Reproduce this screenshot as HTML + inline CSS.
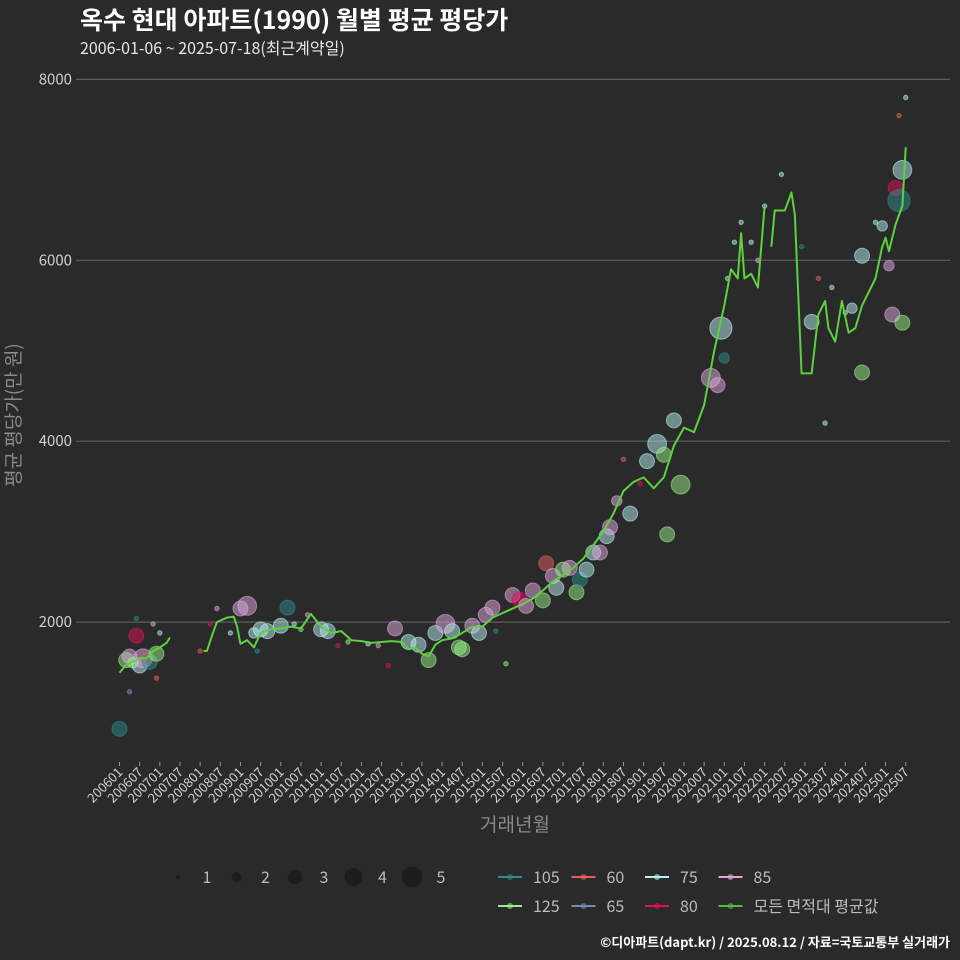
<!DOCTYPE html>
<html><head><meta charset="utf-8">
<style>
html,body{margin:0;padding:0;background:#2a2a2a;}
svg{display:block;font-family:"Noto Sans CJK KR","Liberation Sans",sans-serif;}
</style></head>
<body>
<svg id="chart" width="960" height="960" viewBox="0 0 960 960">
<rect width="960" height="960" fill="#2a2a2a"/>
<text x="80" y="29" fill="#ffffff" font-size="25" font-weight="bold">옥수 현대 아파트(1990) 월별 평균 평당가</text>
<text x="80" y="54" fill="#e8e8e8" font-size="16">2006-01-06 ~ 2025-07-18(최근계약일)</text>
<g id="grid"></g>
<g id="yticks"></g>
<g id="xticks"></g>
<g id="points"></g>
<g id="line"></g>
<text transform="translate(20,415) rotate(-90)" text-anchor="middle" fill="#8a8a8a" font-size="19">평균 평당가(만 원)</text>
<text x="515" y="831" text-anchor="middle" fill="#8a8a8a" font-size="19">거래년월</text>
<g id="legend"></g>
<text x="950" y="947" text-anchor="end" fill="#ffffff" font-size="13" font-weight="bold">©디아파트(dapt.kr) / 2025.08.12 / 자료=국토교통부 실거래가</text>
</svg>
<script>
const yTicks = [2000, 4000, 6000, 8000];
const lineMonths = [200601,200603,200605,200607,200609,200611,200701,200703,200704,null,
200802,200803,200805,200806,200809,200811,200812,200901,200903,200905,200907,200910,201001,201004,201007,201010,201101,201104,201107,201110,201201,201204,201207,201210,201301,201303,201305,201307,201309,201311,201401,201404,201407,201410,201501,201504,201507,201510,201601,201604,201607,201610,201701,201704,201707,201710,201801,201804,201807,201810,201901,201904,201907,201910,202001,202004,202007,202010,202101,202103,202105,202106,202107,202109,202111,202201,null,
202203,202204,202207,202209,202210,202212,202301,202303,202305,202307,202308,202310,202312,202402,202404,202406,202408,202410,202412,202501,202502,202504,202506,202507];
const lineValues = [1440,1530,1560,1600,1600,1680,1720,1770,1830,null,
1680,1680,1900,2000,2050,2060,1950,1760,1800,1720,1880,1920,1930,1950,1930,2090,1950,1880,1900,1800,1790,1770,1780,1790,1780,1700,1720,1650,1620,1750,1800,1820,1880,1950,1950,2050,2100,2150,2200,2260,2350,2450,2520,2600,2700,2850,3000,3200,3450,3550,3600,3480,3600,3950,4150,4100,4400,5000,5500,5900,5800,6300,5800,5850,5700,6600,null,
6150,6550,6550,6750,6500,4750,4750,4750,5400,5550,5250,5100,5550,5200,5250,5500,5650,5800,6150,6250,6100,6400,6600,7250];
const areaNames = ["105","60","75","85","125","65","80"];
const areaColors = ["#2e8b8b","#e0605a","#b8eef0","#e0a8e0","#98ee88","#7090b8","#e0105a"];
const ptMonths = [200601,200603,200604,200605,200606,200607,200608,200609,200610,200611,
200612,200612,200701,200606,200604,200801,200804,200806,200810,200901,
200903,200905,200906,200907,200909,201001,201003,201005,201007,201009,
201101,201103,201106,201109,201203,201206,201209,201211,201303,201306,
201309,201311,201402,201404,201406,201407,201410,201412,201502,201504,
201505,201508,201510,201512,201602,201604,201607,201608,201610,201611,
201701,201703,201705,201706,201708,201710,201712,201802,201803,201805,
201807,201809,201812,201902,201905,201907,201908,201910,201912,
202009,202011,202012,202101,202102,202104,202106,202109,202111,202201,
202206,202212,202303,202305,202307,202309,202401,202403,202406,202406,
202410,202412,202502,202503,202504,202505,202506,202506,202507,202505];
const ptValues = [820,1580,1620,1550,1850,1520,1600,1600,1560,1980,
1380,1650,1880,2040,1230,1680,1980,2150,1880,2150,
2180,1880,1680,1920,1900,1960,2160,1980,1920,2080,
1920,1900,1740,1780,1760,1740,1520,1930,1780,1750,
1580,1880,1980,1900,1720,1700,1960,1880,2080,2160,
1900,1540,2300,2250,2180,2350,2240,2650,2510,2380,
2580,2600,2330,2470,2580,2770,2770,2950,3050,3340,
3800,3200,3530,3780,3970,3850,2970,4230,3520,
4700,4620,5250,4920,5800,6200,6420,6200,6000,6600,
6950,6150,5320,5800,4200,5700,5420,5470,6050,4760,
6420,6380,5940,5400,6800,6660,7000,5310,7800,7600];
const ptAreas = [0,4,3,4,6,2,3,1,0,3,
1,4,2,0,5,1,6,3,2,3,
3,2,0,2,2,2,0,2,4,3,
2,2,6,4,2,3,6,3,2,2,
4,2,3,2,4,4,3,2,3,3,
0,4,3,6,3,3,4,1,3,2,
4,3,4,0,2,2,3,2,3,3,
1,2,6,2,2,4,4,2,4,
3,3,2,0,2,2,2,2,3,2,
2,0,2,1,2,2,2,2,2,4,
2,2,3,3,6,0,2,4,2,1];
const ptCounts = [3,3,3,2,3,3,4,2,3,1,
1,3,1,1,1,1,1,1,1,3,
4,2,1,3,3,3,3,1,1,1,
3,3,1,1,1,1,1,3,3,3,
3,3,4,3,3,3,3,3,3,3,
1,1,3,3,3,3,3,3,3,3,
3,3,3,3,3,3,3,3,3,2,
1,3,1,3,4,3,3,3,4,
4,3,5,2,1,1,1,1,1,1,
1,1,3,1,1,1,1,2,3,3,
1,2,2,3,3,5,4,3,1,1];

const NS="http://www.w3.org/2000/svg";
const X0=119.5, XS=3.36, Y0=803, YS=0.09045;
function xScale(ym){const y=Math.floor(ym/100), m=ym%100; return X0+((y-2006)*12+(m-1))*XS;}
function yScale(v){return Y0-v*YS;}
function rScale(n){return 2.2+ (Math.sqrt(n)-1)*7.2;}
function mk(tag,attrs,parent){const e=document.createElementNS(NS,tag);for(const k in attrs)e.setAttribute(k,attrs[k]);parent.appendChild(e);return e;}

const grid=document.getElementById('grid'), yt=document.getElementById('yticks');
yTicks.forEach(t=>{
  const l=mk('line',{x1:76,x2:950,y1:yScale(t),y2:yScale(t),stroke:'#5e5e5e','stroke-width':1.2},grid);
  
  
  const tx=mk('text',{x:72,y:yScale(t)+5,'text-anchor':'end',fill:'#cfcfcf','font-size':15},yt);
  tx.textContent=t;
  
  
});
const xt=document.getElementById('xticks');
for(let y=2006;y<=2025;y++){for(const m of [1,7]){
  const ym=y*100+m, x=xScale(ym);
  const tk=mk('line',{x1:x,x2:x,y1:762,y2:766,stroke:'#999','stroke-width':1},xt);
  
  
  const tx=mk('text',{x:x+4,y:773,'text-anchor':'end',fill:'#d0d0d0','font-size':13,transform:`rotate(-45 ${x+4} 773)`},xt);
  tx.textContent=String(ym);
  
  
}}
const pts=document.getElementById('points');
ptMonths.forEach((m,i)=>{
  const c=mk('circle',{cx:xScale(m),cy:yScale(ptValues[i]),r:rScale(ptCounts[i]),fill:areaColors[ptAreas[i]],'fill-opacity':0.5,stroke:areaColors[ptAreas[i]],'stroke-opacity':0.6},pts);
  
  
});
const lg=document.getElementById('line');
let seg=[];
function flush(){if(seg.length>1){const p=mk('polyline',{points:seg.join(' '),fill:'none',stroke:'#5fd040','stroke-width':2,'stroke-linejoin':'round'},lg);
  
  }seg=[];}
lineMonths.forEach((m,i)=>{if(m===null){flush();return;}seg.push(xScale(m)+','+yScale(lineValues[i]));});
flush();

const leg=document.getElementById('legend');
const sizeLabels=[1,2,3,4,5];
sizeLabels.forEach((n,i)=>{
  const cx=178+i*58.5;
  const c=mk('circle',{cx:cx,cy:877,r:rScale(n)*0.95,fill:'#1c1c1c','fill-opacity':0.9},leg);
  
  
  const t=mk('text',{x:cx+29,y:883,fill:'#bbbbbb','font-size':16,'text-anchor':'middle'},leg);
  t.textContent=n;
  
  
});
const legNames=["105","60","75","85","125","65","80","모든 면적대 평균값"];
const legCols=["#2e8b8b","#e0605a","#b8eef0","#e0a8e0","#98ee88","#7090b8","#e0105a","#4cc040"];
legNames.forEach((n,i)=>{
  const row=Math.floor(i/4), col=i%4;
  const x=498+col*73.5, y=877+row*29;
  const g=mk('g',{},leg);
  
  
  mk('line',{x1:x,x2:x+24,y1:y,y2:y,stroke:legCols[i],'stroke-width':2},g);
  mk('circle',{cx:x+12,cy:y,r:3,fill:legCols[i],'fill-opacity':0.6},g);
  const t=mk('text',{x:x+35,y:y+6,fill:'#bbbbbb','font-size':16},g);
  t.textContent=n;
});
</script>
</body></html>
